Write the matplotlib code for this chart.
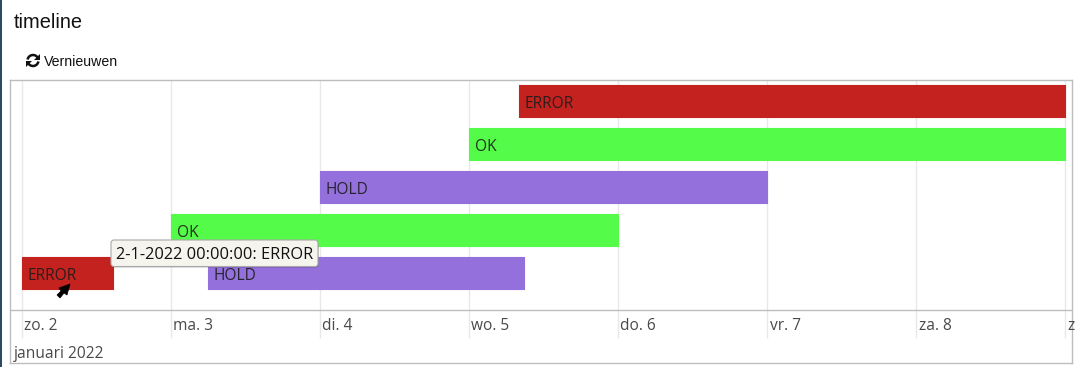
from datetime import datetime

import matplotlib
matplotlib.use("Agg")
import matplotlib.dates as mdates
import matplotlib.pyplot as plt
from matplotlib.patches import Arc, FancyBboxPatch, Polygon, Rectangle

# Timeline rows, top to bottom
statuses = ["ERROR", "OK", "HOLD", "OK", "ERROR", "HOLD"]
rows = [0, 1, 2, 3, 4, 4]
starts = ["2022-01-05 08:00", "2022-01-05 00:00", "2022-01-04 00:00",
          "2022-01-03 00:00", "2022-01-02 00:00", "2022-01-03 06:00"]
ends = ["2022-01-09 00:00", "2022-01-09 00:00", "2022-01-07 00:00",
        "2022-01-06 00:00", "2022-01-02 14:45", "2022-01-05 08:50"]
tick_days = ["2022-01-02", "2022-01-03", "2022-01-04", "2022-01-05",
             "2022-01-06", "2022-01-07", "2022-01-08", "2022-01-09"]
tick_labels = ["zo. 2", "ma. 3", "di. 4", "wo. 5", "do. 6", "vr. 7", "za. 8", "z"]
colors = {"ERROR": "#c4221f", "OK": "#54fb48", "HOLD": "#9370db"}

W, H = 1076, 367
FS = 11.2


def num(s):
    return mdates.date2num(datetime.fromisoformat(s))


fig = plt.figure(figsize=(W / 100, H / 100), dpi=100)

# Chart box runs from x=10 to 1072 and y=80 to 363 in pixels
ax = fig.add_axes([10 / W, 1 - 363 / H, 1062 / W, 283 / H])
day0 = num(tick_days[0])
px_day = 149.1
ax.set_xlim(day0 - 11.5 / px_day, day0 + 1050.5 / px_day)
ax.set_ylim((363 - 101.2) / 43, (80 - 101.2) / 43)
ax.set_xticks([])
ax.set_yticks([])
for s in ax.spines.values():
    s.set_color("#bdbdbd")
    s.set_linewidth(1)

# Day grid stops short of the month label
grid_trans = ax.get_xaxis_transform()
for d in tick_days:
    ax.plot([num(d)] * 2, [25 / 283, 1], color="#e8e8e8", lw=1,
            transform=grid_trans, solid_capstyle="butt", zorder=1)
ax.axhline((310 - 101.2) / 43, color="#bdbdbd", lw=1, zorder=1)

for status, row, a, b in zip(statuses, rows, starts, ends):
    x0, x1 = num(a), num(b)
    ax.barh(row, x1 - x0, left=x0, height=32 / 43, color=colors[status],
            edgecolor=colors[status], linewidth=0.8, joinstyle="round", zorder=2)
    ax.annotate(status, (x0, row), xytext=(6, -2.5), textcoords="offset pixels",
                va="center", ha="left", fontsize=FS, family="Open Sans",
                color="#1c1c1c", alpha=0.9, zorder=3)

for d, lab in zip(tick_days, tick_labels):
    ax.annotate(lab, (num(d), (326.5 - 101.2) / 43), xytext=(2.5, 0),
                textcoords="offset pixels", va="center", ha="left",
                fontsize=FS, family="Open Sans", color="#4a4a4a",
                annotation_clip=False, zorder=3)

# Overlay in pixel coordinates for the page furniture around the chart
ov = fig.add_axes([0, 0, 1, 1], facecolor="none")
ov.set_xlim(0, W)
ov.set_ylim(H, 0)
ov.axis("off")

ov.text(14, 23, "timeline", fontsize=14.4, family="Liberation Sans",
        va="center", color="#111111")
ov.text(44, 62, "Vernieuwen", fontsize=10.2, family="Liberation Sans",
        va="center", color="#111111")
ov.text(14, 354, "januari 2022", fontsize=FS, family="Open Sans",
        va="center", color="#4a4a4a")

# Refresh icon: two arcs, each with an arrow head
ov.add_patch(Arc((33, 60.5), 11, 11, theta1=190, theta2=335, color="#111111", lw=1.8))
ov.add_patch(Arc((33, 60.5), 11, 11, theta1=10, theta2=155, color="#111111", lw=1.8))
ov.add_patch(Polygon([(40, 54), (40, 60), (34, 60)], closed=True, fc="#111111", ec="none"))
ov.add_patch(Polygon([(26, 67), (26, 61), (32, 61)], closed=True, fc="#111111", ec="none"))

# Sliver of the neighbouring window at the left edge
ov.add_patch(Rectangle((0, 0), 1.5, H, color="#2b4a63", lw=0))

# Tooltip with a soft shadow
ov.add_patch(FancyBboxPatch((112, 242), 207, 26, boxstyle="round,pad=0,rounding_size=3",
                            fc="#000000", ec="none", alpha=0.12, zorder=5))
ov.add_patch(FancyBboxPatch((111, 240), 207, 26.5, boxstyle="round,pad=0,rounding_size=3",
                            fc="#f5f4ed", ec="#a8a8a8", lw=0.8, zorder=6))
ov.text(116, 255, "2-1-2022 00:00:00: ERROR", fontsize=11.8, family="Open Sans",
        va="center", color="#111111", zorder=7)

# Mouse cursor
ov.add_patch(Polygon([(70, 284), (67, 295), (64, 293), (60, 298), (57, 295), (61, 291), (59, 288)],
                     closed=True, fc="black", ec="black", lw=0.5, zorder=7))

fig.savefig("out.png", dpi=100)
